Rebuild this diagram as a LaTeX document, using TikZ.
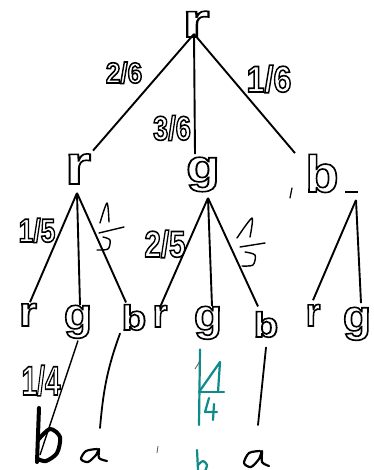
\documentclass[tikz,border=0pt]{standalone}
\usepackage{fontspec}
\setmainfont{Liberation Sans}
\usepackage{graphicx}
\usetikzlibrary{calc}
\newcommand\oltxt[3]{\scalebox{#1}[1]{\fontsize{#2}{#2}\selectfont\bfseries\special{pdf:literal direct 1 Tr 1.6 w}#3\special{pdf:literal direct 0 Tr}}}
\definecolor{tealink}{RGB}{16,138,138}
\definecolor{grayink}{RGB}{90,90,90}
\begin{document}
\begin{tikzpicture}[x=1pt,y=-1pt,
  lab/.style={inner sep=0pt,anchor=base},
  edge/.style={line width=1.9pt,black},
  hand/.style={line width=1.8pt,black,line cap=round,line join=round},
  tealhand/.style={line width=2.2pt,tealink,line cap=round,line join=round}]
\useasboundingbox[fill=white] (0,0) rectangle (373,470);
% tree letters
\node[lab] (root) at (196,37) {\oltxt{1.45}{48pt}{r}};
\node[lab] (r1) at (78,184) {\oltxt{1.2}{56pt}{r}};
\node[lab] (g1) at (203,182) {\oltxt{1.2}{46pt}{g}};
\node[lab] (b1) at (322,192) {\oltxt{1.05}{52pt}{b}};
\node[lab] (r3a) at (28,326) {\oltxt{1.1}{42pt}{r}};
\node[lab] (g3a) at (78,329) {\oltxt{1.05}{44pt}{g}};
\node[lab] (b3a) at (134,330) {\oltxt{1.15}{35pt}{b}};
\node[lab] (r3b) at (160,327) {\oltxt{0.95}{40pt}{r}};
\node[lab] (g3b) at (208,330) {\oltxt{1.05}{44pt}{g}};
\node[lab] (b3b) at (266,337) {\oltxt{1.15}{35pt}{b}};
\node[lab] (r3c) at (313,326) {\oltxt{0.95}{40pt}{r}};
\node[lab] (g3c) at (357,331) {\oltxt{1.05}{44pt}{g}};
% probability labels
\node[lab] (l26) at (124,83) {\oltxt{0.9}{29pt}{2/6}};
\node[lab] (l36) at (172,140) {\oltxt{0.8}{34pt}{3/6}};
\node[lab] (l16) at (269,92) {\oltxt{0.87}{37pt}{1/6}};
\node[lab] (l15) at (37,242) {\oltxt{0.8}{33pt}{1/5}};
\node[lab] (l25) at (165,257) {\oltxt{0.8}{37pt}{2/5}};
\node[lab] (l14) at (41,395) {\oltxt{0.68}{41pt}{1/4}};
% apex coordinates
\coordinate (ra) at (194,34);
\coordinate (r1a) at (77,193);
\coordinate (g1a) at (208,198);
\coordinate (b1a) at (356,200);
\coordinate (hb) at (40,455);
\coordinate (ha1) at (100,428);
\coordinate (tb) at (199,425);
\coordinate (ha2) at (258,425);
% edges
\draw[edge] (ra) -- ($(r1.north)+(15,-3)$);
\draw[edge] (ra) -- ($(g1.north)+(-8,-3)$);
\draw[edge] (ra) -- ($(b1.north)+(-27,-1)$);
\draw[edge] (r1a) -- ($(r3a.north)+(2,-1)$);
\draw[edge] (r1a) -- ($(g3a.north)+(2,0)$);
\draw[edge] (r1a) -- ($(b3a.north)+(-8,-2)$);
\draw[edge] (g1a) -- ($(r3b.north)+(0,2)$);
\draw[edge] (g1a) -- ($(g3b.north)+(4,0)$);
\draw[edge] (g1a) -- ($(b3b.north)+(-8,-5)$);
\draw[edge] (b1a) -- ($(r3c.north)+(0,-4)$);
\draw[edge] (b1a) -- ($(g3c.north)+(4,-4)$);
\draw[edge,line width=1.4pt] ($(g3a.south)+(0,2)$) -- (hb);
\draw[hand] ($(b3a.south)+(-14,3)$) to[out=-110,in=85] (ha1);
\draw[hand] ($(b3b.south)+(0,10)$) -- (ha2);
\draw[tealhand] ($(g3b.south)+(-8,10)$) -- (tb);
% small marks near b
\draw[line width=1.2pt,black,line cap=round] (292,188) -- (290,198);
\draw[line width=1.2pt,black] (345,192) -- (358,192);
% handwritten 1/3 marks
\draw[hand,line width=1.4pt] plot[smooth] coordinates {(100,223) (107,203) (109,222)};
\draw[hand,line width=1.4pt] (99,233) -- (124,227);
\draw[hand,line width=1.4pt] plot[smooth] coordinates {(103,237) (110,240) (108,249) (97,250)};
\draw[hand,line width=1.4pt] plot[smooth] coordinates {(237,238) (252,218) (250,237)};
\draw[hand,line width=1.4pt] (240,247) -- (265,243);
\draw[hand,line width=1.4pt] plot[smooth] coordinates {(245,252) (255,255) (253,265) (242,266)};
% big handwritten b
\draw[hand,line width=4pt] (39,408) -- (37,462);
\draw[hand,line width=4pt] plot[smooth] coordinates {(38,440) (50,429) (60,437) (57,453) (46,461) (38,459)};
% handwritten a
\draw[hand,line width=2.2pt] plot[smooth] coordinates {(97,449) (86,451) (81,459) (88,462) (96,455) (99,449) (99,458) (107,461)};
\draw[hand,line width=2.2pt] plot[smooth] coordinates {(260,451) (249,453) (244,463) (251,467) (259,459) (262,451) (262,462) (269,466)};
% teal 1/4
\draw[tealhand] (199,392) -- (220,362) -- (218,392);
\draw[tealhand] (200,392) -- (224,392);
\draw[tealhand] (209,398) -- (205,412) -- (217,412);
\draw[tealhand] (214,404) -- (213,420);
% teal b
\draw[tealhand] (197,450) -- (198,470);
\draw[tealhand] plot[smooth] coordinates {(198,465) (203,461) (207,465) (205,471)};
% faint ticks
\draw[line width=0.8pt,grayink] (195,369) -- (200,361);
\draw[line width=0.8pt,grayink] (158,446) -- (157,453);
\end{tikzpicture}
\end{document}
